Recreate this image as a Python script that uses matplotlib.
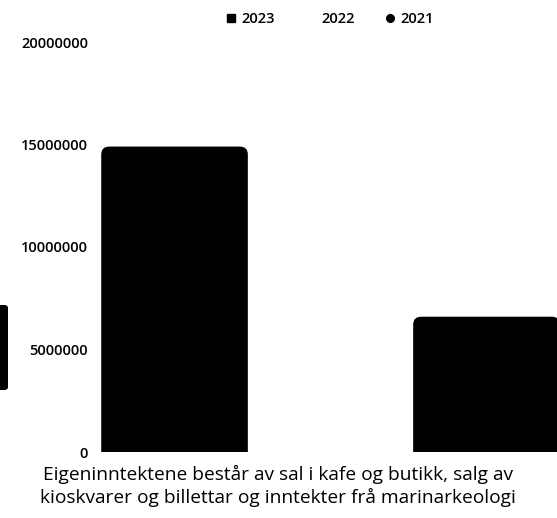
import matplotlib
matplotlib.use("Agg")
import matplotlib.pyplot as plt
from matplotlib.patches import FancyBboxPatch
from matplotlib.lines import Line2D

plt.rcParams['font.family'] = ['Open Sans', 'DejaVu Sans']

years = ["2023", "2022", "2021"]
values = [14900000, 10000000, 6600000]
colors = ["#000000", "#ffffff", "#000000"]
markers = ["s", "s", "o"]
yticks = [0, 5000000, 10000000, 15000000, 20000000]
caption = "Eigeninntektene består av sal i kafe og butikk, salg av\nkioskvarer og billettar og inntekter frå marinarkeologi"

W, H = 557, 518
fig = plt.figure(figsize=(W / 100, H / 100), dpi=100)
ax = fig.add_axes([95 / W, (H - 452) / H, (566 - 95) / W, (452 - 42) / H])
ax.set_xlim(-0.51, 2.51)
ax.set_ylim(0, 20000000)

bw = 0.94
px_x = 1 / 156.0
px_y = 20000000 / 410.0
r = 8
for i, (v, c) in enumerate(zip(values, colors)):
    p = FancyBboxPatch((i - bw / 2, -r * px_y), bw, v + r * px_y,
                       boxstyle=f"round,pad=0,rounding_size={r * px_x}",
                       mutation_aspect=px_y / px_x,
                       facecolor=c, edgecolor="none", clip_on=True)
    ax.add_patch(p)

ax.set_xticks([])
ax.set_yticks(yticks)
ax.set_yticklabels([str(t) for t in yticks], fontsize=10.5, fontweight="semibold")
ax.tick_params(axis="y", length=0, pad=5)
for s in ax.spines.values():
    s.set_visible(False)

handles = [Line2D([], [], linestyle="none", marker=m, markersize=5.5,
                  markerfacecolor=c, markeredgecolor=c) for m, c in zip(markers, colors)]
fig.legend(handles, years, loc="center", bbox_to_anchor=(329 / W, 1 - 19 / H),
           ncol=3, frameon=False, handletextpad=0.2, handlelength=1.0,
           columnspacing=1.95, prop={"weight": "semibold", "size": 10.5})

fig.text(278 / W, 1 - 486 / H, caption, ha="center", va="center",
         fontsize=13.8, linespacing=1.22)

deco = FancyBboxPatch((-12 / W, (H - 390) / H), 20 / W, 85 / H,
                      boxstyle="round,pad=0,rounding_size=0.006",
                      transform=fig.transFigure, facecolor="black",
                      edgecolor="none", figure=fig)
fig.patches.append(deco)

fig.savefig("out.png", dpi=100)
